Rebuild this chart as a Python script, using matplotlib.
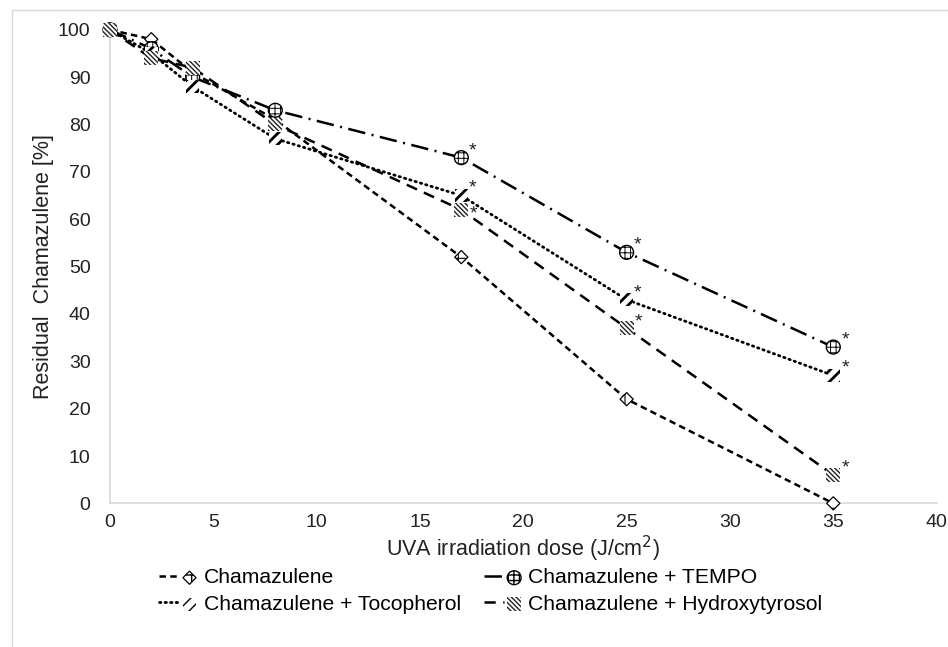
import matplotlib.pyplot as plt
from matplotlib.legend_handler import HandlerTuple
from matplotlib.lines import Line2D

plt.rcParams['font.family'] = ['Liberation Sans', 'DejaVu Sans']

dose = [0, 2, 4, 8, 17, 25, 35]
chamazulene = [100, 98, 91, 81, 52, 22, 0]
tempo = [100, 96, 90, 83, 73, 53, 33]
tocopherol = [100, 95, 88, 77, 65, 43, 27]
hydroxytyrosol = [100, 94, 92, 80, 62, 37, 6]

labels = ['Chamazulene', 'Chamazulene + TEMPO',
          'Chamazulene + Tocopherol', 'Chamazulene + Hydroxytyrosol']
star_idx = [4, 5, 6]

fig = plt.figure(figsize=(9.48, 6.47), dpi=100)
ax = fig.add_axes([0.116, 0.222, 0.872, 0.732])

# light outer frame (only top and left edges visible in the source)
fig.add_artist(Line2D([0.013, 1.0], [0.985, 0.985], transform=fig.transFigure,
                      color='#d9d9d9', lw=1))
fig.add_artist(Line2D([0.013, 0.013], [0.0, 0.985], transform=fig.transFigure,
                      color='#d9d9d9', lw=1))

handles = []

# Chamazulene: short dashes, diamond with cross
l1, = ax.plot(dose, chamazulene, color='black', lw=1.8, dashes=(2.6, 1.7), zorder=2)
plt.rcParams['hatch.linewidth'] = 0.8
m1 = ax.scatter(dose, chamazulene, marker='D', s=45, facecolor='white',
                edgecolor='black', lw=0.9, hatch='+', zorder=3)
handles.append((l1, m1))

# TEMPO: long dash-dot, crosshatched circle
l2, = ax.plot(dose, tempo, color='black', lw=1.8, dashes=(7, 2.6, 0.8, 2.6), zorder=2)
plt.rcParams['hatch.linewidth'] = 0.7
m2 = ax.scatter(dose, tempo, marker='o', s=100, facecolor='white', edgecolor='black',
                lw=1.0, hatch='+++', zorder=3)
handles.append((l2, m2))

# Tocopherol: dotted, slash hatched
l3, = ax.plot(dose, tocopherol, color='black', lw=2.0, dashes=(0.5, 1.5),
              dash_capstyle='round', zorder=2)
plt.rcParams['hatch.linewidth'] = 2.0
m3 = ax.scatter(dose, tocopherol, marker='s', s=90, facecolor='white',
                edgecolor='black', lw=0, hatch='///', zorder=3)
handles.append((l3, m3))

# Hydroxytyrosol: dashed, dense hatched square
l4, = ax.plot(dose, hydroxytyrosol, color='black', lw=1.8, dashes=(4.5, 3), zorder=2)
plt.rcParams['hatch.linewidth'] = 1.0
m4 = ax.scatter(dose, hydroxytyrosol, marker='s', s=100, facecolor='white',
                edgecolor='#222222', lw=0, hatch='\\\\\\\\\\\\\\', zorder=3)
handles.append((l4, m4))

star_offsets = {
    'tempo': [(5, -1), (5, -1), (6, -1)],
    'tocopherol': [(5, -1), (5, -1), (6, -1)],
    'hydroxytyrosol': [(6, -9), (6, -2), (6, -1)],
}
for name, series in (('tempo', tempo), ('tocopherol', tocopherol),
                     ('hydroxytyrosol', hydroxytyrosol)):
    for k, i in enumerate(star_idx):
        ax.annotate('*', (dose[i], series[i]), xytext=star_offsets[name][k],
                    textcoords='offset points', fontsize=14, ha='left', va='bottom',
                    color='#222222')

ax.set_xlim(0, 40)
ax.set_ylim(0, 100)
ax.set_xticks(range(0, 41, 5))
ax.set_yticks(range(0, 101, 10))
ax.tick_params(length=0, labelsize=14, colors='#222222')
ax.tick_params(axis='y', pad=14)
ax.tick_params(axis='x', pad=8)
ax.set_xlabel('UVA irradiation dose (J/cm$^2$)', fontsize=15.5, color='#222222', labelpad=2)
ax.set_ylabel('Residual  Chamazulene [%]', fontsize=15.5, color='#222222', labelpad=3)
for s in ('top', 'right'):
    ax.spines[s].set_visible(False)
for s in ('left', 'bottom'):
    ax.spines[s].set_color('#d9d9d9')
    ax.spines[s].set_linewidth(1.2)
for c in ax.collections:
    c.set_clip_on(False)

# row-wise order for a 2-column legend
order = [0, 2, 1, 3]
fig.legend([handles[i] for i in order], [labels[i] for i in order],
           loc='upper left', bbox_to_anchor=(0.157, 0.138), ncol=2, borderpad=0,
           frameon=False, fontsize=15.2, handler_map={tuple: HandlerTuple(ndivide=None)},
           handlelength=1.9, columnspacing=1.1, labelspacing=0.35, handletextpad=0.2)

fig.savefig('out.png', dpi=100)
